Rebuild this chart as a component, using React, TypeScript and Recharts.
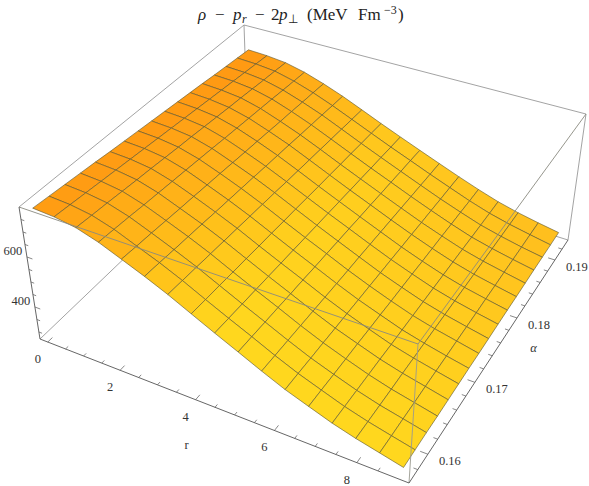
import React from "react";
import { ScatterChart, Scatter, XAxis, YAxis, Customized } from "recharts";

const W = 589;
const H = 486;

// r and alpha mesh lines
const rValues = [0, 0.5625, 1.125, 1.6875, 2.25, 2.8125, 3.375, 3.9375, 4.5, 5.0625, 5.625, 6.1875, 6.75, 7.3125, 7.875, 8.4375, 9];
const alphaValues = [0.157, 0.15925, 0.1615, 0.16375, 0.166, 0.16825, 0.1705, 0.17275, 0.175, 0.17725, 0.1795, 0.18175, 0.184, 0.18625, 0.1885, 0.19075, 0.193];

// surface height (MeV Fm^-3) along r, one list per alpha mesh line
const z00 = [790, 784, 770, 742, 705, 668, 628, 584, 541, 500, 459, 421, 390, 360, 336, 316, 296];
const z01 = [785, 779, 765, 738, 701, 665, 625, 581, 539, 499, 458, 421, 390, 360, 336, 316, 297];
const z02 = [780, 774, 761, 734, 698, 661, 622, 579, 537, 497, 457, 420, 389, 360, 336, 317, 298];
const z03 = [775, 769, 756, 729, 694, 658, 619, 576, 535, 496, 456, 420, 389, 360, 336, 317, 298];
const z04 = [770, 764, 751, 725, 690, 655, 616, 574, 533, 494, 455, 419, 389, 360, 337, 318, 299];
const z05 = [764, 759, 747, 721, 687, 651, 613, 571, 531, 493, 454, 419, 388, 359, 337, 318, 300];
const z06 = [759, 754, 742, 717, 683, 648, 610, 569, 529, 491, 453, 418, 388, 359, 337, 318, 301];
const z07 = [754, 749, 737, 713, 680, 645, 607, 566, 527, 490, 452, 418, 387, 359, 337, 319, 301];
const z08 = [749, 744, 733, 709, 676, 642, 604, 564, 525, 488, 452, 417, 387, 359, 337, 319, 302];
const z09 = [744, 739, 728, 704, 672, 638, 600, 561, 523, 487, 451, 417, 387, 359, 337, 319, 303];
const z10 = [739, 734, 723, 700, 669, 635, 597, 558, 521, 485, 450, 416, 386, 359, 337, 320, 304];
const z11 = [734, 729, 718, 696, 665, 632, 594, 556, 519, 484, 449, 416, 386, 359, 337, 320, 304];
const z12 = [729, 724, 714, 692, 661, 628, 591, 553, 517, 482, 448, 415, 386, 359, 338, 321, 305];
const z13 = [723, 719, 709, 688, 658, 625, 588, 551, 515, 481, 447, 415, 385, 358, 338, 321, 306];
const z14 = [718, 714, 704, 683, 654, 622, 585, 548, 513, 479, 446, 414, 385, 358, 338, 321, 307];
const z15 = [713, 709, 700, 679, 651, 618, 582, 546, 511, 478, 445, 414, 384, 358, 338, 322, 307];
const z16 = [708, 704, 695, 675, 647, 615, 579, 543, 509, 476, 444, 413, 384, 358, 338, 322, 308];
const zRows = [z00, z01, z02, z03, z04, z05, z06, z07, z08, z09, z10, z11, z12, z13, z14, z15, z16];

const rTicks = [0, 2, 4, 6, 8];
const rMinor = [0.5, 1, 1.5, 2.5, 3, 3.5, 4.5, 5, 5.5, 6.5, 7, 7.5, 8.5];
const alphaTicks = [0.16, 0.17, 0.18, 0.19];
const alphaMinor = [0.158, 0.162, 0.164, 0.166, 0.168, 0.172, 0.174, 0.176, 0.178, 0.182, 0.184, 0.186, 0.188, 0.192];
const zTicks = [400, 600];
const zMinor = [300, 350, 450, 500, 550, 650, 700, 750];

// Box limits in data units (with the plot padding)
const rLo = -0.22, rHi = 9.22;
const aLo = 0.1563, aHi = 0.1937;
const zLo = 272, zHi = 800;

const SERIF = '"Liberation Serif", "Times New Roman", serif';

type P = [number, number];
function quad(p00: P, p10: P, p11: P, p01: P) {
  const dx1 = p10[0] - p11[0], dx2 = p01[0] - p11[0], sx = p00[0] - p10[0] + p11[0] - p01[0];
  const dy1 = p10[1] - p11[1], dy2 = p01[1] - p11[1], sy = p00[1] - p10[1] + p11[1] - p01[1];
  const den = dx1 * dy2 - dx2 * dy1;
  const g = (sx * dy2 - dx2 * sy) / den;
  const h = (dx1 * sy - sx * dy1) / den;
  const a = p10[0] - p00[0] + g * p10[0], b = p01[0] - p00[0] + h * p01[0], c = p00[0];
  const d = p10[1] - p00[1] + g * p10[1], e = p01[1] - p00[1] + h * p01[1], f = p00[1];
  return (u: number, v: number): P => {
    const q = g * u + h * v + 1;
    return [(a * u + b * v + c) / q, (d * u + e * v + f) / q];
  };
}
const floor = quad([40, 339], [409, 483], [568, 240], [248, 140]);
const ceil = quad([19, 207], [418, 344], [586, 114], [244, 25]);

const uOf = (r: number) => (r - rLo) / (rHi - rLo);
const vOf = (a: number) => (a - aLo) / (aHi - aLo);
const wOf = (z: number) => (z - zLo) / (zHi - zLo);
function project(r: number, a: number, z: number) {
  const u = uOf(r), v = vOf(a), w = wOf(z);
  const b = floor(u, v), t = ceil(u, v);
  return { px: b[0] + (t[0] - b[0]) * w, py: b[1] + (t[1] - b[1]) * w };
}

function shade(u: number, v: number) {
  const s = Math.min(1, u / 0.5);
  const g = 150 + 66 * s - v * (2 + 26 * u);
  return `rgb(255,${Math.round(g)},${Math.round(18 + 12 * s)})`;
}

type Cell = { px: number; py: number; pts: { px: number; py: number }[]; fill: string };
const cells: Cell[] = [];
for (let j = alphaValues.length - 2; j >= 0; j--) {
  for (let i = 0; i < rValues.length - 1; i++) {
    const pts = [
      project(rValues[i], alphaValues[j], zRows[j][i]),
      project(rValues[i + 1], alphaValues[j], zRows[j][i + 1]),
      project(rValues[i + 1], alphaValues[j + 1], zRows[j + 1][i + 1]),
      project(rValues[i], alphaValues[j + 1], zRows[j + 1][i]),
    ];
    cells.push({
      px: (pts[0].px + pts[1].px + pts[2].px + pts[3].px) / 4,
      py: (pts[0].py + pts[1].py + pts[2].py + pts[3].py) / 4,
      pts,
      fill: shade(uOf((rValues[i] + rValues[i + 1]) / 2), vOf((alphaValues[j] + alphaValues[j + 1]) / 2)),
    });
  }
}

const CellShape = (props: any) => {
  const { cx, cy, payload } = props;
  const d = payload.pts.map((p: any) => `${cx + p.px - payload.px},${cy + p.py - payload.py}`).join(" ");
  return <polygon points={d} fill={payload.fill} stroke="#5a5530" strokeOpacity={0.8} strokeWidth={0.75} strokeLinejoin="round" />;
};

const Nothing = () => <g />;
const Corner = {
  a: project(rLo, aLo, zLo), b: project(rHi, aLo, zLo), c: project(rHi, aHi, zLo), d: project(rLo, aHi, zLo),
  A: project(rLo, aLo, zHi), B: project(rHi, aLo, zHi), C: project(rHi, aHi, zHi), D: project(rLo, aHi, zHi),
};

function edge(key: string, from: any, to: any, color: string, width = 0.9) {
  return (
    <Scatter key={key} data={[from, to]} line={{ stroke: color, strokeWidth: width }} lineType="joint" shape={Nothing as any} isAnimationActive={false} />
  );
}

const TickShape = (props: any) => {
  const { cx, cy, payload } = props;
  return <line x1={cx} y1={cy} x2={cx + payload.dx} y2={cy + payload.dy} stroke="#555" strokeWidth={0.7} />;
};
function tick(from: any, to: any) {
  return { px: from.px, py: from.py, dx: to.px - from.px, dy: to.py - from.py };
}
const ticks = [
  ...rTicks.map((r) => tick(project(r, aLo, zLo), project(r, aLo + 0.0007, zLo))),
  ...rMinor.map((r) => tick(project(r, aLo, zLo), project(r, aLo + 0.0004, zLo))),
  ...alphaTicks.map((a) => tick(project(rHi, a, zLo), project(rHi - 0.18, a, zLo))),
  ...alphaMinor.map((a) => tick(project(rHi, a, zLo), project(rHi - 0.1, a, zLo))),
  ...zTicks.map((z) => tick(project(rLo, aLo, z), project(rLo + 0.15, aLo, z))),
  ...zMinor.map((z) => tick(project(rLo, aLo, z), project(rLo + 0.09, aLo, z))),
];

const LabelShape = (props: any) => {
  const { cx, cy, payload } = props;
  return (
    <text x={cx + payload.ox} y={cy + payload.oy} textAnchor="middle" dominantBaseline="central" style={{ fontFamily: SERIF, fontSize: 12.5, fontStyle: payload.italic ? "italic" : "normal" }} fill="#333">
      {payload.label}
    </text>
  );
};
const labels = [
  ...rTicks.map((r) => ({ ...project(r, aLo, zLo), ox: -10, oy: 17, label: String(r) })),
  ...alphaTicks.map((a) => ({ ...project(rHi, a, zLo), ox: 22, oy: 7, label: a.toFixed(2) })),
  ...zTicks.map((z) => ({ ...project(rLo, aLo, z), ox: -14, oy: -6, label: String(z) })),
  { ...project(4, aLo, zLo), ox: -9, oy: 45, label: "r" },
  { ...project(rHi, 0.175, zLo), ox: 37, oy: -1, label: "α", italic: true },
];

const Title = () => (
  <text y={20} style={{ fontFamily: SERIF, fontSize: 17 }} fill="#222">
    <tspan x={198} fontStyle="italic">ρ</tspan>
    <tspan x={215}>−</tspan>
    <tspan x={233} fontStyle="italic">p</tspan>
    <tspan x={242} fontStyle="italic" fontSize={12} dy={3}>r</tspan>
    <tspan x={255} dy={-3}>−</tspan>
    <tspan x={271}>2</tspan>
    <tspan x={279} fontStyle="italic">p</tspan>
    <tspan x={288} fontSize={12} dy={3}>⊥</tspan>
    <tspan x={307} dy={-3}>(MeV</tspan>
    <tspan x={358}>Fm</tspan>
    <tspan x={384} fontSize={12} dy={-6}>−3</tspan>
    <tspan x={398} dy={6}>)</tspan>
  </text>
);

export default function App() {
  return (
    <div style={{ position: "absolute", left: 0, top: 0, width: W, height: H }}>
      <ScatterChart width={W} height={H} margin={{ top: 0, right: 0, bottom: 0, left: 0 }}>
        <XAxis type="number" dataKey="px" domain={[0, W]} hide />
        <YAxis type="number" dataKey="py" domain={[0, H]} reversed hide />
        {edge("ad", Corner.a, Corner.d, "#999")}
        {edge("dc", Corner.d, Corner.c, "#999")}
        {edge("dD", Corner.d, Corner.D, "#999")}
        {edge("AD", Corner.A, Corner.D, "#999")}
        {edge("DC", Corner.D, Corner.C, "#999")}
        {edge("cC", Corner.c, Corner.C, "#999")}
        <Scatter data={cells} shape={CellShape} isAnimationActive={false} />
        {edge("AB", Corner.A, Corner.B, "#8a8a80")}
        {edge("BC", Corner.B, Corner.C, "#8a8a80")}
        {edge("bB", Corner.b, Corner.B, "#9a9a90")}
        {edge("aA", Corner.a, Corner.A, "#555")}
        {edge("ab", Corner.a, Corner.b, "#555")}
        {edge("bc", Corner.b, Corner.c, "#555")}
        <Scatter data={ticks} shape={TickShape} isAnimationActive={false} />
        <Scatter data={labels} shape={LabelShape} isAnimationActive={false} />
        <Customized component={Title} />
      </ScatterChart>
    </div>
  );
}
